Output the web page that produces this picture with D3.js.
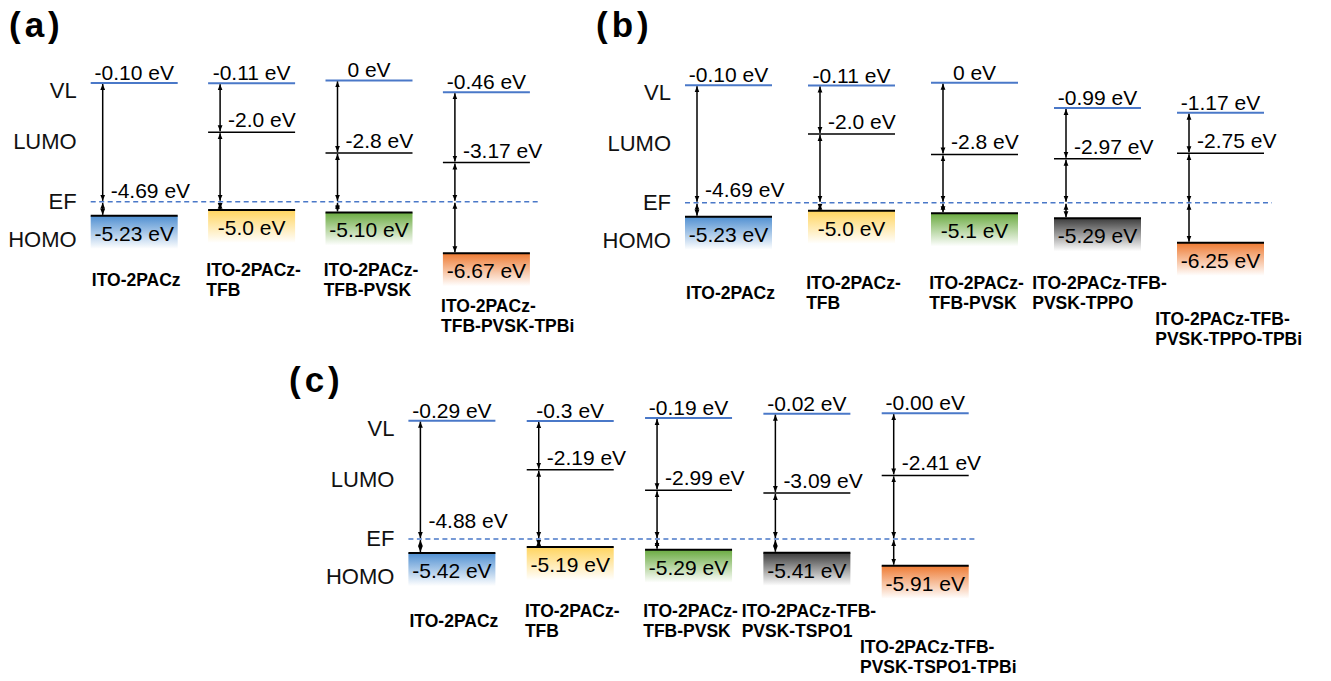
<!DOCTYPE html>
<html><head><meta charset="utf-8">
<script src="https://cdn.jsdelivr.net/npm/d3@7"></script>
<style>body{margin:0;background:#fff}svg{display:block;font-family:"Liberation Sans",Arial,sans-serif}</style>
</head><body><svg id="chart" width="1331" height="681"></svg>
<script>
// ---------------- DATA ----------------
const levelNames = ["VL", "LUMO", "EF", "HOMO"];

// Panel (a)
const namesA = [["ITO-2PACz"], ["ITO-2PACz-", "TFB"], ["ITO-2PACz-", "TFB-PVSK"], ["ITO-2PACz-", "TFB-PVSK-TPBi"]];
const topLayerA = ["2PACz", "TFB", "PVSK", "TPBi"];
const vlA = [-0.10, -0.11, 0, -0.46];
const vlLabA = ["-0.10 eV", "-0.11 eV", "0 eV", "-0.46 eV"];
const lumoA = [null, -2.0, -2.8, -3.17];
const lumoLabA = [null, "-2.0 eV", "-2.8 eV", "-3.17 eV"];
const homoA = [-5.23, -5.0, -5.10, -6.67];
const homoLabA = ["-5.23 eV", "-5.0 eV", "-5.10 eV", "-6.67 eV"];
const efA = -4.69, efLabA = "-4.69 eV";

// Panel (b)
const namesB = [["ITO-2PACz"], ["ITO-2PACz-", "TFB"], ["ITO-2PACz-", "TFB-PVSK"], ["ITO-2PACz-TFB-", "PVSK-TPPO"], ["ITO-2PACz-TFB-", "PVSK-TPPO-TPBi"]];
const topLayerB = ["2PACz", "TFB", "PVSK", "TPPO", "TPBi"];
const vlB = [-0.10, -0.11, 0, -0.99, -1.17];
const vlLabB = ["-0.10 eV", "-0.11 eV", "0 eV", "-0.99 eV", "-1.17 eV"];
const lumoB = [null, -2.0, -2.8, -2.97, -2.75];
const lumoLabB = [null, "-2.0 eV", "-2.8 eV", "-2.97 eV", "-2.75 eV"];
const homoB = [-5.23, -5.0, -5.1, -5.29, -6.25];
const homoLabB = ["-5.23 eV", "-5.0 eV", "-5.1 eV", "-5.29 eV", "-6.25 eV"];
const efB = -4.69, efLabB = "-4.69 eV";

// Panel (c)
const namesC = [["ITO-2PACz"], ["ITO-2PACz-", "TFB"], ["ITO-2PACz-", "TFB-PVSK"], ["ITO-2PACz-TFB-", "PVSK-TSPO1"], ["ITO-2PACz-TFB-", "PVSK-TSPO1-TPBi"]];
const topLayerC = ["2PACz", "TFB", "PVSK", "TSPO1", "TPBi"];
const vlC = [-0.29, -0.3, -0.19, -0.02, -0.00];
const vlLabC = ["-0.29 eV", "-0.3 eV", "-0.19 eV", "-0.02 eV", "-0.00 eV"];
const lumoC = [null, -2.19, -2.99, -3.09, -2.41];
const lumoLabC = [null, "-2.19 eV", "-2.99 eV", "-3.09 eV", "-2.41 eV"];
const homoC = [-5.42, -5.19, -5.29, -5.41, -5.91];
const homoLabC = ["-5.42 eV", "-5.19 eV", "-5.29 eV", "-5.41 eV", "-5.91 eV"];
const efC = -4.88, efLabC = "-4.88 eV";

// ---------------- STYLE / LAYOUT ----------------
const layerColor = d3.scaleOrdinal()
  .domain(["2PACz", "TFB", "PVSK", "TPPO", "TSPO1", "TPBi"])
  .range(["#4f8fd1", "#ffd45e", "#6aaa40", "#3c3c3c", "#3c3c3c", "#ee7a32"]);
const VL_COLOR = "#4a78c8";
const FONT_E = 21, FONT_LEVEL = 22, FONT_NAME = 17.5;
const BW = 87, BOX_H = 33;

const panels = [
  { letter: "(a)", lx: 9, ly: 37, xr: [90.7, 442.9], yr: [80.4, 261.7], nameY: 276, efDy: -4,
    names: namesA, top: topLayerA, vl: vlA, vlLab: vlLabA, lumo: lumoA, lumoLab: lumoLabA,
    homo: homoA, homoLab: homoLabA, ef: efA, efLab: efLabA },
  { letter: "(b)", lx: 596, ly: 37, xr: [685, 1177], yr: [82.7, 262], nameY: 289, efDy: -6,
    names: namesB, top: topLayerB, vl: vlB, vlLab: vlLabB, lumo: lumoB, lumoLab: lumoLabB,
    homo: homoB, homoLab: homoLabB, ef: efB, efLab: efLabB },
  { letter: "(c)", lx: 289, ly: 392, xr: [408.4, 881.7], yr: [413.2, 593.8], nameY: 617, efDy: -11,
    names: namesC, top: topLayerC, vl: vlC, vlLab: vlLabC, lumo: lumoC, lumoLab: lumoLabC,
    homo: homoC, homoLab: homoLabC, ef: efC, efLab: efLabC }
];

const svg = d3.select("#chart");
const defs = svg.append("defs");

// arrow head
defs.append("marker").attr("id", "ah")
  .attr("viewBox", "0 -3 6 6").attr("refX", 6).attr("refY", 0)
  .attr("markerWidth", 6).attr("markerHeight", 6)
  .attr("markerUnits", "userSpaceOnUse").attr("orient", "auto-start-reverse")
  .append("path").attr("d", "M0,-2.4L6,0L0,2.4Z").attr("fill", "#000");

// gradients
layerColor.domain().forEach(k => {
  const gr = defs.append("linearGradient").attr("id", "g-" + k)
    .attr("x1", 0).attr("y1", 0).attr("x2", 0).attr("y2", 1);
  gr.append("stop").attr("offset", "0%").attr("stop-color", layerColor(k)).attr("stop-opacity", 1);
  gr.append("stop").attr("offset", "45%").attr("stop-color", layerColor(k)).attr("stop-opacity", 0.55);
  gr.append("stop").attr("offset", "100%").attr("stop-color", layerColor(k)).attr("stop-opacity", 0);
});

panels.forEach(p => {
  const n = p.vl.length;
  const idx = d3.range(n);
  const x = d3.scalePoint().domain(idx).range(p.xr);
  const y = d3.scaleLinear().domain([0, -7]).range(p.yr);
  const g = svg.append("g");
  const ax = i => x(i) + 12;
  const cx = i => x(i) + BW / 2;

  // panel letter
  g.append("text").attr("x", p.lx).attr("y", p.ly)
    .attr("font-size", 35).attr("font-weight", "bold").attr("letter-spacing", 4).text(p.letter);

  // left level names
  const labX = x(0) - 14;
  const levY = [y(p.vl[0]) + 15, (y(p.vl[0]) + y(p.ef)) / 2 + 7, y(p.ef) + 7, y(p.homo[0]) + 31];
  levelNames.forEach((t, k) => {
    g.append("text").attr("x", labX).attr("y", levY[k]).attr("text-anchor", "end")
      .attr("font-size", FONT_LEVEL).attr("fill", "#111").text(t);
  });

  // HOMO gradient boxes
  g.selectAll(".box").data(idx).join("rect")
    .attr("x", i => x(i)).attr("y", i => y(p.homo[i]))
    .attr("width", BW).attr("height", BOX_H)
    .attr("fill", i => "url(#g-" + p.top[i] + ")");

  // EF dashed line
  g.append("line")
    .attr("x1", x(0)).attr("x2", x(n - 1) + BW + 8)
    .attr("y1", y(p.ef)).attr("y2", y(p.ef))
    .attr("stroke", VL_COLOR).attr("stroke-width", 1.5).attr("stroke-dasharray", "5,3.5");

  // VL lines
  g.selectAll(".vl").data(idx).join("line")
    .attr("x1", i => x(i)).attr("x2", i => x(i) + BW)
    .attr("y1", i => y(p.vl[i])).attr("y2", i => y(p.vl[i]))
    .attr("stroke", VL_COLOR).attr("stroke-width", 2);

  // LUMO lines
  g.selectAll(".lumo").data(idx.filter(i => p.lumo[i] != null)).join("line")
    .attr("x1", i => x(i)).attr("x2", i => x(i) + BW)
    .attr("y1", i => y(p.lumo[i])).attr("y2", i => y(p.lumo[i]))
    .attr("stroke", "#000").attr("stroke-width", 1.5);

  // HOMO lines
  g.selectAll(".homo").data(idx).join("line")
    .attr("x1", i => x(i)).attr("x2", i => x(i) + BW)
    .attr("y1", i => y(p.homo[i])).attr("y2", i => y(p.homo[i]))
    .attr("stroke", "#000").attr("stroke-width", 2);

  // arrows
  idx.forEach(i => {
    const lev = [p.vl[i], p.lumo[i], p.ef, p.homo[i]].filter(v => v != null);
    for (let k = 0; k < lev.length - 1; k++) {
      g.append("line")
        .attr("x1", ax(i)).attr("x2", ax(i))
        .attr("y1", y(lev[k]) + 1).attr("y2", y(lev[k + 1]) - 1)
        .attr("stroke", "#000").attr("stroke-width", 1.5)
        .attr("marker-start", "url(#ah)").attr("marker-end", "url(#ah)");
    }
  });

  // VL labels
  g.selectAll(".vlt").data(idx).join("text")
    .attr("x", i => cx(i)).attr("y", i => y(p.vl[i]) - 3)
    .attr("text-anchor", "middle").attr("font-size", FONT_E).text(i => p.vlLab[i]);

  // LUMO labels
  g.selectAll(".lut").data(idx.filter(i => p.lumo[i] != null)).join("text")
    .attr("x", i => ax(i) + 8).attr("y", i => y(p.lumo[i]) - 5)
    .attr("font-size", FONT_E).text(i => p.lumoLab[i]);

  // EF label
  g.append("text").attr("x", ax(0) + 8).attr("y", y(p.ef) + p.efDy)
    .attr("font-size", FONT_E).text(p.efLab);

  // HOMO labels
  g.selectAll(".hot").data(idx).join("text")
    .attr("x", i => cx(i)).attr("y", i => y(p.homo[i]) + 25)
    .attr("text-anchor", "middle").attr("font-size", FONT_E).text(i => p.homoLab[i]);

  // names
  idx.forEach(i => {
    const lines = p.names[i];
    let by = p.nameY + (lines.length === 1 ? 10 : 0);
    if (i === n - 1) by += 36;
    const t = g.append("text").attr("font-size", FONT_NAME).attr("font-weight", "bold");
    const spans = lines.map((s, k) => t.append("tspan").attr("y", by + k * 20).text(s));
    const w1 = spans[0].node().getComputedTextLength();
    const lx = cx(i) - w1 / 2 + 2;
    spans.forEach(s => s.attr("x", lx));
  });
});
</script>
</body></html>
